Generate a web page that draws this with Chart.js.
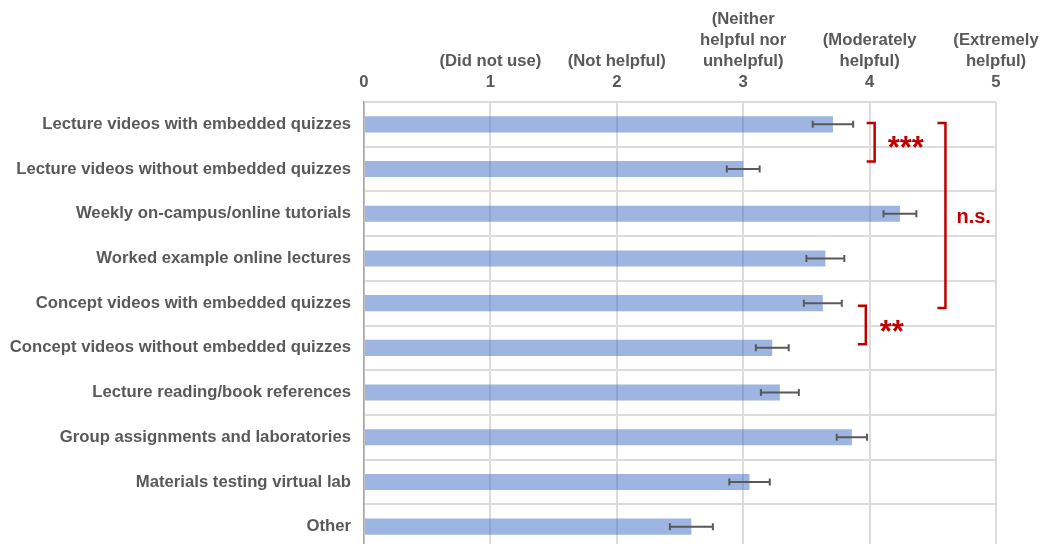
<!DOCTYPE html>
<html>
<head>
<meta charset="utf-8">
<script src="https://cdn.jsdelivr.net/npm/chart.js@4"></script>
<style>
  html, body { margin: 0; padding: 0; background: #fff; overflow: hidden; }
  #wrap { position: relative; width: 1040px; height: 549px; }
</style>
</head>
<body>
<div id="wrap"><canvas id="chart"></canvas></div>
<script>
const categories = [
    'Lecture videos with embedded quizzes',
    'Lecture videos without embedded quizzes',
    'Weekly on-campus/online tutorials',
    'Worked example online lectures',
    'Concept videos with embedded quizzes',
    'Concept videos without embedded quizzes',
    'Lecture reading/book references',
    'Group assignments and laboratories',
    'Materials testing virtual lab',
    'Other',
]

const means = [3.71, 3.00, 4.24, 3.65, 3.63, 3.23, 3.29, 3.86, 3.05, 2.59]
const errors = [0.16, 0.13, 0.13, 0.15, 0.15, 0.13, 0.15, 0.12, 0.16, 0.17]

const tickLabels = [
    ['0'],
    ['(Did not use)', '1'],
    ['(Not helpful)', '2'],
    ['(Neither', 'helpful nor', 'unhelpful)', '3'],
    ['(Moderately', 'helpful)', '4'],
    ['(Extremely', 'helpful)', '5'],
]

// significance brackets: category span and the x value of the bracket
const brackets = [
    { from: -0.03, to: 0.83, x: 4.04, label: '***' },
    { from: -0.03, to: 4.11, x: 4.60, label: 'n.s.' },
    { from: 4.06, to: 4.92, x: 3.97, label: '**' },
]

const font = { family: '"Liberation Sans", Arial, sans-serif', weight: 'bold', size: 16.7, lineHeight: 1.26 }
const grey = '#595959'
const red = '#c00000'

const annotate = {
    id: 'annotate',
    afterDatasetsDraw(chart) {
        const { ctx, scales: { x, y } } = chart
        ctx.save()

        // error bars
        ctx.strokeStyle = grey
        ctx.lineWidth = 2
        means.forEach((m, i) => {
            const yc = y.getPixelForValue(i)
            const x0 = x.getPixelForValue(m - errors[i])
            const x1 = x.getPixelForValue(m + errors[i])
            ctx.beginPath()
            ctx.moveTo(x0, yc); ctx.lineTo(x1, yc)
            ctx.moveTo(x0, yc - 3.5); ctx.lineTo(x0, yc + 3.5)
            ctx.moveTo(x1, yc - 3.5); ctx.lineTo(x1, yc + 3.5)
            ctx.stroke()
        })

        // brackets
        ctx.strokeStyle = red
        ctx.fillStyle = red
        ctx.lineWidth = 2.5
        ctx.lineJoin = 'miter'
        for (const b of brackets) {
            const bx = x.getPixelForValue(b.x)
            const y0 = y.getPixelForValue(b.from)
            const y1 = y.getPixelForValue(b.to)
            ctx.beginPath()
            ctx.moveTo(bx - 8, y0); ctx.lineTo(bx, y0)
            ctx.lineTo(bx, y1); ctx.lineTo(bx - 8, y1)
            ctx.stroke()

            const ym = (y0 + y1) / 2
            ctx.textAlign = 'left'
            ctx.textBaseline = 'middle'
            if (b.label === 'n.s.') {
                ctx.font = 'bold 20px "Liberation Sans", Arial, sans-serif'
                ctx.fillText(b.label, bx + 11, ym + 2)
            } else if (b.label === '***') {
                ctx.font = 'bold 31px "Liberation Sans", Arial, sans-serif'
                ctx.fillText(b.label, bx + 13, ym + 7.5)
            } else {
                ctx.font = 'bold 31px "Liberation Sans", Arial, sans-serif'
                ctx.fillText(b.label, bx + 14, ym + 8)
            }
        }
        ctx.restore()
    }
}

const canvas = document.querySelector('#chart')

const chart = new Chart(canvas, {
    type: 'bar',
    data: {
        labels: categories,
        datasets: [
            {
                data: means,
                backgroundColor: 'rgba(68, 114, 196, 0.52)',
                borderWidth: 0,
                barPercentage: 0.36,
                categoryPercentage: 1,
            },
        ]
    },
    options: {
        indexAxis: 'y',
        responsive: true,
        maintainAspectRatio: false,
        animation: false,
        layout: {
            padding: { left: 0, right: 44, top: 0, bottom: 0 }
        },
        plugins: {
            legend: false,
            tooltip: { enabled: false },
        },
        scales: {
            x: {
                position: 'top',
                min: 0,
                max: 5,
                ticks: {
                    stepSize: 1,
                    autoSkip: false,
                    maxRotation: 0,
                    padding: 9,
                    color: grey,
                    font: font,
                    callback: (v) => tickLabels[v],
                },
                grid: { color: '#dcdcdc', lineWidth: 2, drawTicks: false },
                border: { display: false },
                afterFit: (s) => { s.height = 102; s.paddingLeft = 0; s.paddingRight = 0 },
            },
            y: {
                ticks: {
                    padding: 13,
                    color: grey,
                    font: font,
                },
                grid: { color: '#dcdcdc', lineWidth: 2, drawTicks: false, offset: true },
                border: { color: '#a6a6a6', width: 1.5 },
                afterFit: (s) => { s.width = 364; s.paddingTop = 0; s.paddingBottom = 0 },
            },
        }
    },
    plugins: [annotate],
});
</script>
</body>
</html>
